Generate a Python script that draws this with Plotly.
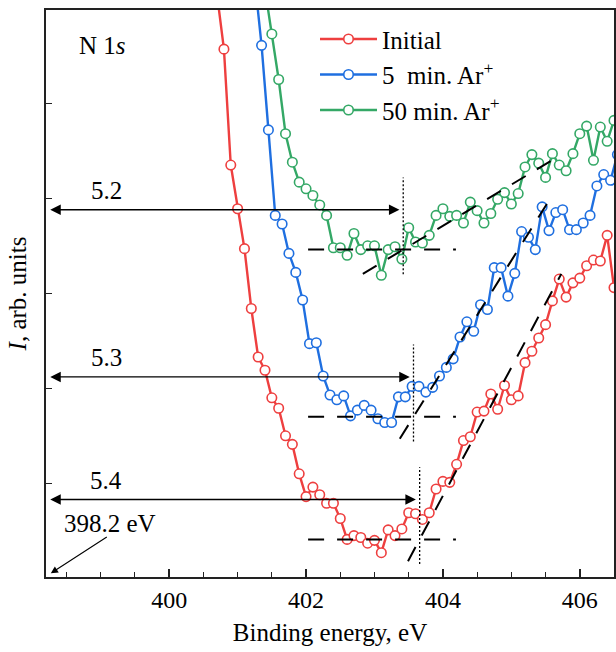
import plotly.graph_objects as go

# ---------------- data ----------------
energy_initial = [400.7, 400.8, 400.9, 401.0, 401.1, 401.2, 401.3, 401.4, 401.5, 401.6,
                  401.7, 401.8, 401.9, 402.0, 402.1, 402.2, 402.3, 402.4, 402.5, 402.6,
                  402.7, 402.8, 402.9, 403.0, 403.1, 403.2, 403.3, 403.4, 403.5, 403.6,
                  403.7, 403.8, 403.9, 404.0, 404.1, 404.2, 404.3, 404.4, 404.5, 404.6,
                  404.7, 404.8, 404.9, 405.0, 405.1, 405.2, 405.3, 405.4, 405.5, 405.6,
                  405.7, 405.8, 405.9, 406.0, 406.1, 406.2, 406.3, 406.4, 406.5]
intensity_initial = [5.14, 4.57, 3.35, 2.89, 2.47, 1.84, 1.33, 1.19, 0.90, 0.79,
                     0.50, 0.41, 0.10, -0.14, -0.04, -0.12, -0.21, -0.21, -0.37, -0.59,
                     -0.55, -0.57, -0.63, -0.60, -0.73, -0.49, -0.55, -0.48, -0.31, -0.32,
                     -0.38, -0.31, -0.06, 0.02, 0.01, 0.20, 0.45, 0.49, 0.75, 0.76,
                     0.94, 0.78, 1.03, 0.88, 0.92, 1.27, 1.39, 1.53, 1.67, 1.92,
                     2.15, 1.96, 2.11, 2.16, 2.29, 2.35, 2.34, 2.61, 2.06]

energy_5min = [401.25, 401.35, 401.45, 401.55, 401.65, 401.75, 401.85, 401.95, 402.05, 402.15,
               402.25, 402.35, 402.45, 402.55, 402.65, 402.75, 402.85, 402.95, 403.05, 403.15,
               403.25, 403.35, 403.45, 403.55, 403.65, 403.75, 403.85, 403.95, 404.05, 404.15,
               404.25, 404.35, 404.45, 404.55, 404.65, 404.75, 404.85, 404.95, 405.05, 405.15,
               405.25, 405.35, 405.45, 405.55, 405.65, 405.75, 405.85, 405.95, 406.05, 406.15,
               406.25, 406.35, 406.45, 406.55]
intensity_5min = [5.30, 4.61, 3.72, 2.82, 2.73, 2.42, 2.22, 1.93, 1.47, 1.48,
                  1.13, 0.93, 0.88, 0.92, 0.71, 0.77, 0.82, 0.77, 0.68, 0.64,
                  0.64, 0.91, 0.91, 1.02, 1.02, 0.96, 1.01, 1.13, 1.22, 1.31,
                  1.54, 1.70, 1.60, 1.88, 1.83, 2.27, 2.27, 1.97, 2.21, 2.65,
                  2.59, 2.46, 2.91, 2.66, 2.85, 2.88, 2.67, 2.67, 2.74, 2.82,
                  3.13, 3.25, 3.19, 3.46]

energy_50min = [401.4, 401.5, 401.6, 401.7, 401.8, 401.9, 402.0, 402.1, 402.2, 402.3,
                402.4, 402.5, 402.6, 402.7, 402.8, 402.9, 403.0, 403.1, 403.2, 403.3,
                403.4, 403.5, 403.6, 403.7, 403.8, 403.9, 404.0, 404.1, 404.2, 404.3,
                404.4, 404.5, 404.6, 404.7, 404.8, 404.9, 405.0, 405.1, 405.2, 405.3,
                405.4, 405.5, 405.6, 405.7, 405.8, 405.9, 406.0, 406.1, 406.2, 406.3,
                406.4, 406.5]
intensity_50min = [5.20, 4.73, 4.25, 3.68, 3.38, 3.17, 3.10, 3.03, 2.93, 2.82,
                   2.48, 2.48, 2.40, 2.63, 2.46, 2.50, 2.50, 2.19, 2.46, 2.49,
                   2.36, 2.69, 2.54, 2.53, 2.61, 2.82, 2.89, 2.81, 2.82, 2.74,
                   2.96, 2.87, 2.74, 2.84, 2.99, 3.06, 2.94, 3.05, 3.33, 3.46,
                   3.37, 3.22, 3.47, 3.35, 3.29, 3.47, 3.68, 3.76, 3.40, 3.75,
                   3.60, 3.82]

series_names = ["Initial", "5\u00a0 min. Ar<sup>+</sup>", "50 min. Ar<sup>+</sup>"]
series_colors = ["#ee3f3f", "#1f6fe0", "#34a866"]

# onset analysis (order: Initial, 5 min, 50 min)
peak_energy = 398.2
gap_labels = ["5.4", "5.3", "5.2"]
onset_energy = [403.66, 403.57, 403.42]
background_level = [-0.59, 0.70, 2.46]
fit_slope = [1.35, 1.15, 0.433]
fit_start = [403.49, 403.37, 402.83]
fit_end = [405.73, 405.53, 405.60]
background_start = 402.03
background_end = 404.19

yticks = [0, 1, 2, 3, 4]
xrange_ = [398.2, 406.5]
yrange_ = [-0.986, 4.982]

FONT = "Liberation Serif"
TXT = dict(family=FONT, size=25, color="black")

fig = go.Figure()
for e, i, name, col in zip([energy_initial, energy_5min, energy_50min],
                           [intensity_initial, intensity_5min, intensity_50min],
                           series_names, series_colors):
    fig.add_trace(go.Scatter(
        x=e, y=i, name=name, mode="lines+markers",
        line=dict(color=col, width=2.4),
        marker=dict(symbol="circle", size=9.5, color="white",
                    line=dict(color=col, width=1.6)),
    ))

shapes = []
annotations = []
for k in range(3):
    bg = background_level[k]
    on = onset_energy[k]
    shapes.append(dict(type="line", xref="x", yref="y",
                       x0=background_start, x1=background_end, y0=bg, y1=bg,
                       line=dict(color="black", width=2, dash="16px,13px"), layer="above"))
    shapes.append(dict(type="line", xref="x", yref="y",
                       x0=fit_start[k], x1=fit_end[k],
                       y0=bg + fit_slope[k] * (fit_start[k] - on),
                       y1=bg + fit_slope[k] * (fit_end[k] - on),
                       line=dict(color="black", width=2, dash="16px,13px"), layer="above"))
    shapes.append(dict(type="line", xref="x", yref="y",
                       x0=on, x1=on, y0=bg - 0.26, y1=bg + 0.76,
                       line=dict(color="black", width=1.3, dash="2px,2px"), layer="above"))
    ya = bg + 0.42
    annotations.append(dict(x=on - 0.055, y=ya, ax=398.24, ay=ya,
                            xref="x", yref="y", axref="x", ayref="y",
                            text="", showarrow=True, arrowside="end+start",
                            arrowhead=2, startarrowhead=2, arrowsize=1.5, startarrowsize=1.5,
                            arrowwidth=1.4, arrowcolor="black"))
    annotations.append(dict(x=399.08, y=ya + 0.2, xref="x", yref="y", text=gap_labels[k],
                            showarrow=False, font=TXT))

annotations.append(dict(x=398.66, y=4.61, xref="x", yref="y", xanchor="left",
                        text="N 1<i>s</i>", showarrow=False, font=TXT))
annotations.append(dict(x=399.14, y=-0.42, xref="x", yref="y",
                        text=f"{peak_energy} eV", showarrow=False, font=TXT))
annotations.append(dict(x=peak_energy + 0.07, y=-0.947, ax=399.11, ay=-0.555,
                        xref="x", yref="y", axref="x", ayref="y",
                        text="", showarrow=True, arrowhead=2, arrowsize=1.3,
                        arrowwidth=1.1, arrowcolor="black"))

fig.update_layout(
    width=616, height=652,
    margin=dict(l=46, r=2, t=10, b=75, autoexpand=False),
    paper_bgcolor="white", plot_bgcolor="white",
    font=dict(family=FONT, size=24, color="black"),
    showlegend=True,
    legend=dict(x=0.4736, y=0.989, xanchor="left", yanchor="top",
                bgcolor="rgba(0,0,0,0)", itemwidth=57,
                font=TXT, tracegroupgap=0),
    shapes=shapes, annotations=annotations,
)
fig.update_xaxes(
    range=xrange_, tick0=400, dtick=2, ticks="inside", ticklen=8, tickwidth=1.5,
    tickcolor="#222", showline=True, linecolor="#222", linewidth=2, mirror=True,
    showgrid=False, zeroline=False, automargin=False,
    tickfont=dict(family=FONT, size=24, color="black"),
    minor=dict(ticks="inside", ticklen=5, dtick=0.5, tick0=400, tickwidth=1.2, tickcolor="#222"),
    title=dict(text="Binding energy, eV", font=TXT, standoff=12),
)
fig.update_yaxes(
    range=yrange_, tickvals=yticks, showticklabels=False, ticks="inside", ticklen=6,
    tickwidth=1.2, tickcolor="#222", showline=True, linecolor="#222", linewidth=2, mirror=True,
    showgrid=False, zeroline=False, automargin=False,
    title=dict(text="<i>I</i>, arb. units", font=TXT, standoff=10),
)

fig.write_html("out.html", config={"displayModeBar": False},
               post_script="document.body.style.margin='0px';")
